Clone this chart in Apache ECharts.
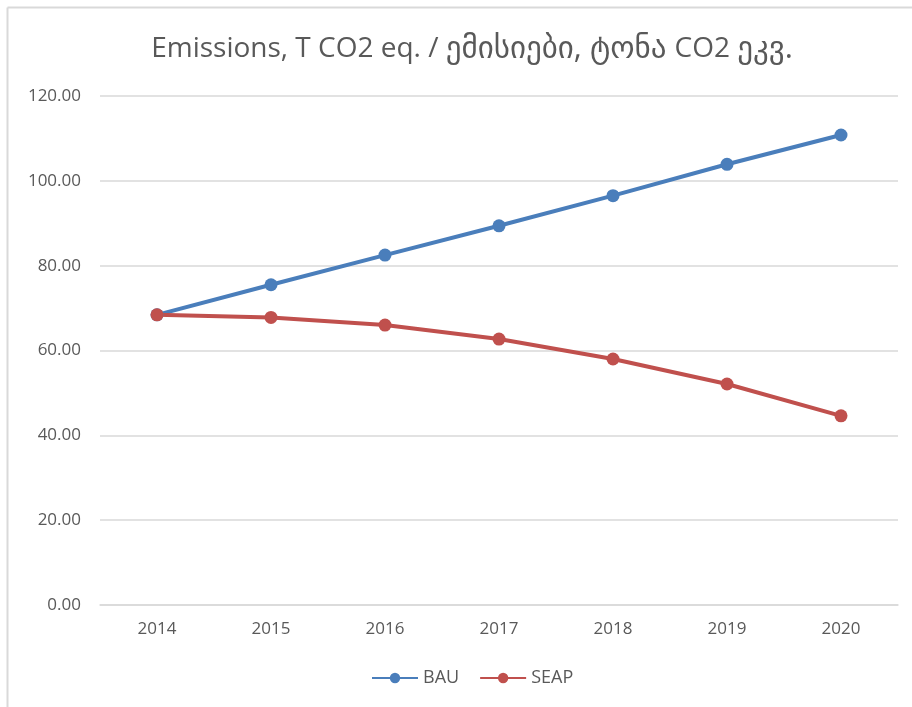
<!DOCTYPE html>
<html>
<head>
<meta charset="utf-8">
<script src="https://cdn.jsdelivr.net/npm/echarts@6/dist/echarts.min.js"></script>
<style>
html, body { margin: 0; padding: 0; background: #fff; }
#chart { width: 912px; height: 707px; }
</style>
</head>
<body>
<div id="chart"></div>
<script>
const years = ['2014', '2015', '2016', '2017', '2018', '2019', '2020']
const bau = [68.4, 75.5, 82.5, 89.4, 96.5, 103.9, 110.8]
const seap = [68.4, 67.8, 66.0, 62.7, 58.0, 52.1, 44.6]

const myChart = echarts.init(document.getElementById('chart'))
const textColor = '#595959'
const font = '"Open Sans", "Noto Sans", "DejaVu Sans", sans-serif'

myChart.setOption({
  animation: false,
  title: {
    text: '{a|Emissions, T CO2 eq. / }{b|ემისიები, ტონა }{a|CO2 }{b|ეკვ.}',
    left: 467,
    textAlign: 'center',
    top: 29,
    textStyle: {
      color: textColor,
      fontFamily: font,
      fontWeight: 'normal',
      fontSize: 28,
      rich: {
        a: { color: textColor, fontFamily: font, fontSize: 28 },
        b: { color: textColor, fontFamily: font, fontSize: 31 }
      }
    }
  },
  graphic: [
    { type: 'line', shape: { x1: 7.5, y1: 7.5, x2: 912, y2: 7.5 }, style: { stroke: '#d9d9d9', lineWidth: 2 } },
    { type: 'line', shape: { x1: 7.5, y1: 7.5, x2: 7.5, y2: 707 }, style: { stroke: '#d9d9d9', lineWidth: 2 } }
  ],
  grid: {
    left: 100,
    right: 14,
    top: 96,
    bottom: 102
  },
  legend: {
    data: ['BAU', 'SEAP'],
    bottom: 15,
    left: 366,
    itemWidth: 46,
    itemHeight: 13,
    itemGap: 20,
    textStyle: { color: textColor, fontFamily: font, fontSize: 18 }
  },
  xAxis: {
    type: 'category',
    data: years,
    boundaryGap: true,
    axisLine: { lineStyle: { color: '#d9d9d9', width: 1.5 } },
    axisTick: { show: false },
    axisLabel: { color: textColor, fontFamily: font, fontSize: 17, margin: 16 }
  },
  yAxis: {
    type: 'value',
    min: 0,
    max: 120,
    interval: 20,
    axisLine: { show: false },
    axisTick: { show: false },
    splitLine: { lineStyle: { color: '#d9d9d9', width: 1.5 } },
    axisLabel: {
      color: textColor,
      fontFamily: font,
      fontSize: 17,
      margin: 19,
      formatter: v => v.toFixed(2)
    }
  },
  series: [
    {
      name: 'BAU',
      type: 'line',
      data: bau,
      symbol: 'circle',
      symbolSize: 13,
      lineStyle: { color: '#4a7ebb', width: 4 },
      itemStyle: { color: '#4a7ebb' }
    },
    {
      name: 'SEAP',
      type: 'line',
      data: seap,
      symbol: 'circle',
      symbolSize: 13,
      lineStyle: { color: '#c0504d', width: 4 },
      itemStyle: { color: '#c0504d' }
    }
  ]
})
</script>
</body>
</html>
